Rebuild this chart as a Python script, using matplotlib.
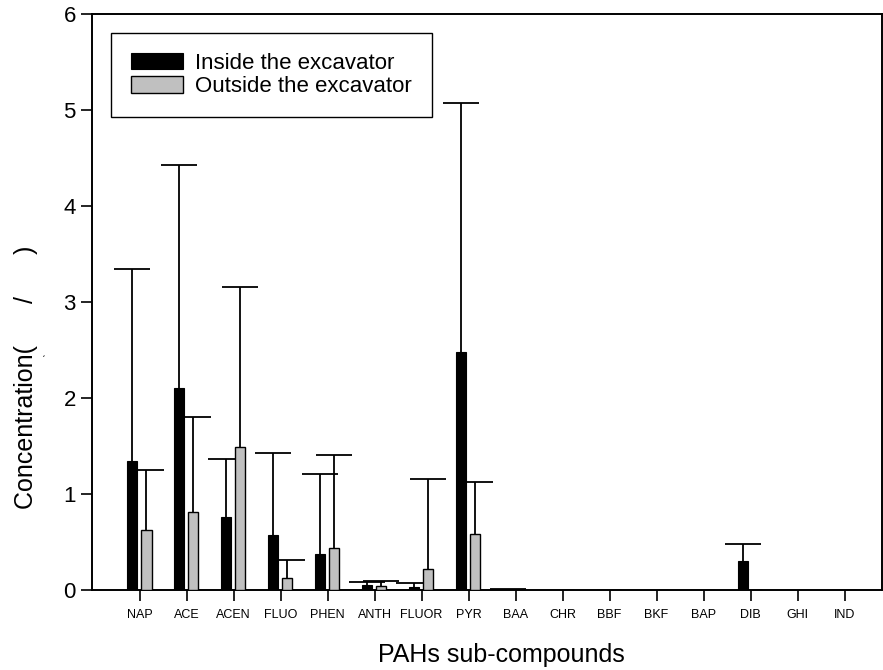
import numpy as np
import matplotlib
matplotlib.use("Agg")
import matplotlib.pyplot as plt

plt.rcParams['font.family'] = ['Liberation Sans', 'DejaVu Sans']

# PAH sub-compounds and concentrations
compounds = ['NAP', 'ACE', 'ACEN', 'FLUO', 'PHEN', 'ANTH', 'FLUOR', 'PYR',
             'BAA', 'CHR', 'BBF', 'BKF', 'BAP', 'DIB', 'GHI', 'IND']
inside = [1.34, 2.10, 0.76, 0.57, 0.37, 0.05, 0.035, 2.48,
          0.005, 0, 0, 0, 0, 0.305, 0, 0]
inside_top = [3.34, 4.43, 1.365, 1.425, 1.205, 0.087, 0.077, 5.07,
              0.012, 0, 0, 0, 0, 0.48, 0, 0]
outside = [0.62, 0.815, 1.49, 0.125, 0.44, 0.04, 0.22, 0.587,
           0, 0, 0, 0, 0, 0, 0, 0]
outside_top = [1.25, 1.80, 3.16, 0.312, 1.41, 0.09, 1.156, 1.13,
               0, 0, 0, 0, 0, 0, 0, 0]

x = np.arange(len(compounds))
inside = np.array(inside)
outside = np.array(outside)
err_in = np.array(inside_top) - inside
err_out = np.array(outside_top) - outside

fig = plt.figure(figsize=(8.83, 6.70), dpi=100)
ax = fig.add_axes([0.104, 0.1194, 0.895, 0.8597])

w = 0.22
ax.bar(x - 0.16, inside, w, color='black', edgecolor='black', linewidth=0.8,
       label='Inside the excavator', zorder=3)
ax.bar(x + 0.14, outside, w, color='#c0c0c0', edgecolor='black', linewidth=1.0,
       label='Outside the excavator', zorder=3)

# upper error bars only, skip the empty compounds
for off, vals, err in [(-0.16, inside, err_in), (0.14, outside, err_out)]:
    m = err > 0
    eb = ax.errorbar(x[m] + off, vals[m], yerr=[np.zeros(m.sum()), err[m]],
                     fmt='none', ecolor='black', elinewidth=1.3, capsize=13,
                     capthick=1.3, zorder=2)
    eb[1][0].set_visible(False)  # hide lower caps

ax.set_xlim(-1.02, 15.8)
ax.set_ylim(0, 6)
ax.set_xticks(x)
ax.set_xticklabels(compounds, fontsize=9)
ax.set_yticks(range(7))
ax.tick_params(axis='y', labelsize=16, length=8, width=1.2, direction='out')
ax.tick_params(axis='x', length=8, width=1.2, direction='out', pad=6)
for s in ax.spines.values():
    s.set_linewidth(1.4)

ax.set_xlabel('PAHs sub-compounds', fontsize=18)
ax.xaxis.set_label_coords(0.518, -0.092)
ax.set_ylabel('Concentration(      /      )', fontsize=18)
ax.yaxis.set_label_coords(-0.068, 0.37)
fig.text(0.047, 0.456, 'ˊ', fontsize=8)

leg = ax.legend(loc='upper left', bbox_to_anchor=(0.024, 0.967), borderaxespad=0,
                fontsize=16, handlelength=2.35, handleheight=0.75, handletextpad=0.55,
                labelspacing=0.1, borderpad=0.9, fancybox=False, framealpha=1,
                edgecolor='black')
leg.get_frame().set_linewidth(1.0)

fig.savefig('out.png', dpi=100)
